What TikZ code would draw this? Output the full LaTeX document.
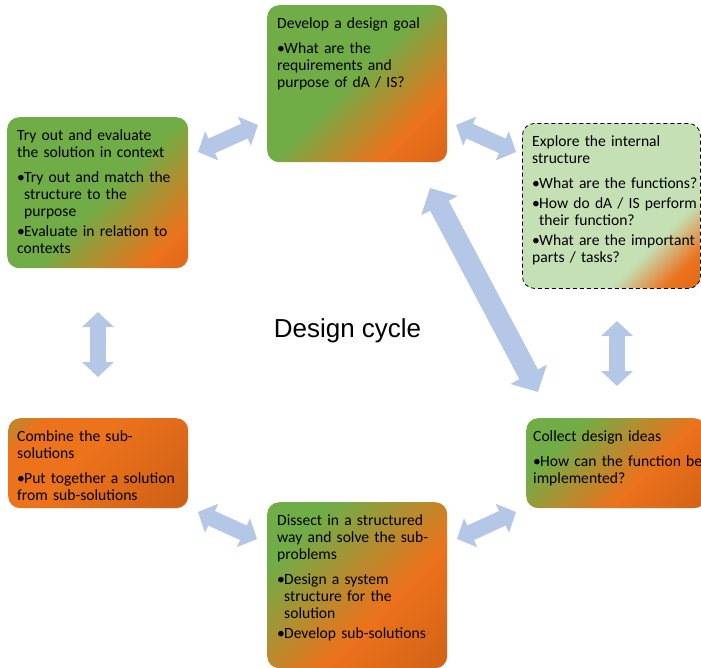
\documentclass[tikz,border=0pt]{standalone}
\usepackage{fontspec}
\setmainfont{Carlito}
\newfontfamily\titlefont{Liberation Sans}
\usetikzlibrary{arrows.meta}

\definecolor{leaf}{RGB}{112,173,71}
\definecolor{paleleaf}{RGB}{197,224,180}
\definecolor{tangerine}{RGB}{236,114,28}
\definecolor{rust}{RGB}{194,88,18}
\definecolor{sky}{RGB}{180,199,231}

\pgfdeclarehorizontalshading{goalshade}{100bp}{color(0bp)=(leaf); color(48bp)=(leaf); color(71bp)=(tangerine); color(100bp)=(rust)}
\pgfdeclarehorizontalshading{tryshade}{100bp}{color(0bp)=(leaf); color(52bp)=(leaf); color(76bp)=(tangerine); color(100bp)=(rust)}
\pgfdeclarehorizontalshading{explshade}{100bp}{color(0bp)=(paleleaf); color(67bp)=(paleleaf); color(78bp)=(tangerine); color(100bp)=(rust)}
\pgfdeclarehorizontalshading{combshade}{100bp}{color(0bp)=(leaf); color(4bp)=(leaf); color(24bp)=(tangerine); color(45bp)=(tangerine); color(100bp)=(rust)}
\pgfdeclarehorizontalshading{collshade}{100bp}{color(0bp)=(leaf); color(30bp)=(leaf); color(60bp)=(tangerine); color(100bp)=(rust)}
\pgfdeclarehorizontalshading{dissshade}{100bp}{color(0bp)=(leaf); color(28bp)=(leaf); color(60bp)=(tangerine); color(100bp)=(rust)}

\newcommand\bitem[1][3pt]{\par\vspace{#1}\hangindent=7pt\hangafter=1\noindent\makebox[7pt][l]{\textbullet}}

\begin{document}
\begin{tikzpicture}[
       x=1pt, y=-1pt,
       box/.style={rectangle, rounded corners=12pt, anchor=north west, inner sep=0pt, shade, shading angle=-45},
       boxtext/.style={anchor=base west, inner sep=0pt, text width=200pt, align=left, font=\fontsize{15.6}{17}\selectfont},
       arrow/.style={{Triangle[width=31pt,length=15pt]}-{Triangle[width=31pt,length=15pt]}, line width=16pt, sky},
       bigarrow/.style={{Triangle[width=40pt,length=20pt]}-{Triangle[width=40pt,length=20pt]}, line width=21pt, sky}
   ]
   \useasboundingbox (0,0) rectangle (701,667);

   \node[box, shading=goalshade, minimum width=180pt, minimum height=157pt] (goal) at (267,5) {};
   \node[box, shading=tryshade, minimum width=181pt, minimum height=151pt] (try) at (7,117) {};
   \node[box, shading=explshade, draw=black, line width=0.8pt, dash pattern=on 4pt off 3pt, minimum width=178pt, minimum height=165pt] (explore) at (522,123) {};
   \node[box, shading=combshade, minimum width=180pt, minimum height=90pt] (combine) at (8,418) {};
   \node[box, shading=collshade, minimum width=180pt, minimum height=90pt] (collect) at (526,418) {};
   \node[box, shading=dissshade, minimum width=180pt, minimum height=166pt] (dissect) at (267,502) {};

   \node[boxtext] (goaltext) at ([shift={(10,23)}]goal.north west)
     {Develop a design goal\bitem[8pt]What are the\newline requirements and\newline purpose of dA / IS?};
   \node[boxtext] (trytext) at ([shift={(10,23)}]try.north west)
     {Try out and evaluate\newline the solution in context\bitem[8pt]Try out and match the\newline structure to the\newline purpose\bitem Evaluate in relation to\newline contexts};
   \node[boxtext] (exploretext) at ([shift={(10,23)}]explore.north west)
     {Explore the internal\newline structure\bitem[8pt]What are the functions?\bitem How do dA / IS perform\newline their function?\bitem What are the important\newline parts / tasks?};
   \node[boxtext] (combinetext) at ([shift={(9,23)}]combine.north west)
     {Combine the sub-\newline solutions\bitem[8pt]Put together a solution\newline from sub-solutions};
   \node[boxtext] (collecttext) at ([shift={(7,23)}]collect.north west)
     {Collect design ideas\bitem[8pt]How can the function be\newline implemented?};
   \node[boxtext] (dissecttext) at ([shift={(10,23)}]dissect.north west)
     {Dissect in a structured\newline way and solve the sub-\newline problems\bitem[8pt]Design a system\newline structure for the\newline solution\bitem Develop sub-solutions};

   \node[anchor=base, font=\titlefont\fontsize{26}{30}\selectfont] (cycle) at (347.5,337) {Design cycle};

   \coordinate (tryR) at (198,152);
   \coordinate (goalL) at (258,125);
   \coordinate (goalR) at (456,125);
   \coordinate (exploreL) at (516,152);
   \coordinate (goalB) at (430,188);
   \coordinate (collectT) at (538,392);
   \coordinate (exploreB) at (617,321);
   \coordinate (collectTR) at (617,386);
   \coordinate (collectL) at (516,512);
   \coordinate (dissectR) at (457,539);
   \coordinate (dissectL) at (257,539);
   \coordinate (combineR) at (198,512);
   \coordinate (combineT) at (98,377);
   \coordinate (tryB) at (98,312);

   \draw[arrow] (tryR) -- (goalL);
   \draw[arrow] (goalR) -- (exploreL);
   \draw[bigarrow] (goalB) -- (collectT);
   \draw[arrow] (exploreB) -- (collectTR);
   \draw[arrow] (collectL) -- (dissectR);
   \draw[arrow] (dissectL) -- (combineR);
   \draw[arrow] (combineT) -- (tryB);
   \end{tikzpicture}
\end{document}
